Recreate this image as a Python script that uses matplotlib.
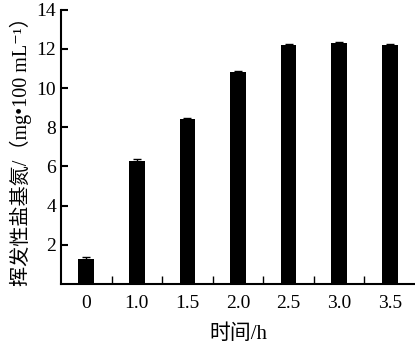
import numpy as np
import matplotlib.pyplot as plt
from matplotlib.ticker import FixedLocator

plt.rcParams['font.family'] = ['Liberation Serif', 'Noto Sans CJK SC', 'DejaVu Serif']

times = ['0', '1.0', '1.5', '2.0', '2.5', '3.0', '3.5']
tvbn = [1.3, 6.3, 8.4, 10.8, 12.2, 12.3, 12.2]
err = [0.08, 0.08, 0.08, 0.08, 0.08, 0.04, 0.08]
yticks = [2, 4, 6, 8, 10, 12, 14]

fig = plt.figure(figsize=(4.15, 3.51), dpi=100)
ax = fig.add_axes([0.147, 0.191, 0.853, 0.781])

x = np.arange(len(times))
ax.bar(x, tvbn, width=0.31, color='black', yerr=err,
       error_kw=dict(ecolor='black', capsize=3, elinewidth=1, capthick=1))

ax.set_xlim(-0.5, len(times) - 0.5)
ax.set_ylim(0, 14)
ax.set_yticks(yticks)
ax.set_xticks(x)
ax.set_xticklabels(times)
ax.xaxis.set_minor_locator(FixedLocator(x[:-1] + 0.5))
ax.tick_params(axis='x', which='major', length=0, labelsize=14, pad=8)
ax.tick_params(axis='x', which='minor', direction='in', length=6, width=1)
ax.tick_params(axis='y', direction='in', length=5, width=1.5, labelsize=14)

for s in ['top', 'right']:
    ax.spines[s].set_visible(False)
for s in ['left', 'bottom']:
    ax.spines[s].set_linewidth(1.5)

ax.set_xlabel('时间/h', fontsize=15, labelpad=9)
ax.set_ylabel('挥发性盐基氮/（mg•100 mL⁻¹）', fontsize=14.5, labelpad=3)

fig.savefig('out.png', dpi=100)
